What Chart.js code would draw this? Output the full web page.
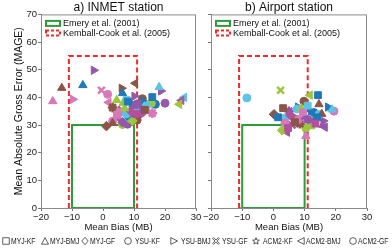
<!DOCTYPE html>
<html>
<head>
<meta charset="utf-8">
<script src="https://cdn.jsdelivr.net/npm/chart.js@4.4.1/dist/chart.umd.min.js"></script>
<style>
  body { margin: 0; background: #fff; width: 392px; height: 251px; overflow: hidden; position: relative; }
  .box { position: absolute; top: 0; height: 236px; }
  #legend { position: absolute; left: 0; top: 234px; width: 392px; height: 16px;
    font: 8.7px "Liberation Sans", Arial, sans-serif; color: #222; white-space: nowrap; }
  #legend span { position: absolute; top: 1px; line-height: 12px; transform: scaleX(0.78); transform-origin: 0 50%; }
  #legend svg { position: absolute; top: 3px; width: 8px; height: 8px; overflow: visible; }
  #legend svg * { fill: none; stroke: #222; stroke-width: 0.9; }
</style>
</head>
<body>
<div class="box" style="left:0; width:205px;"><canvas id="inmet"></canvas></div>
<div class="box" style="left:200px; width:192px;"><canvas id="airport"></canvas></div>
<div id="legend"></div>
<script>
// model configurations (marker shape = configuration)
const schemes = ["MYJ-KF", "MYJ-BMJ", "MYJ-GF", "YSU-KF", "YSU-BMJ", "YSU-GF", "ACM2-KF", "ACM2-BMJ", "ACM2-GF"];
const palette = ["#d978b9", "#8b5548", "#1f78b8", "#9558a8", "#5cc3e3", "#9cc63b", "#b1519c"];

// a) INMET station
const inmetMB   = [-16.2, -13.3, -6.5, -3.0, -9.7, -0.5, 1.5, 6.0, 10.4, 18.1, 18.7, 15.9, 12.7, 20.0, 16.9, 26.2, 25.3, 24.6, 1.8, 3.1, 1.1, 4.4, 6.3, 10.1, 15.9,
                   7.6, 6.5, 9.2, 11.2, 15.6, 8.2, 5.3, 3.1, 6.3, 6.3, 7.9, 3.1, 8.5, 13.5, 7.0, 9.0, 10.5, 12.0, 11.5, 10.0, 4.5, 12.8, 14.0, 9.5, 5.0, 13.0, 8.0, 11.0, 6.0, 7.5];
const inmetMAGE = [38.6, 43.4, 44.4, 49.8, 39.3, 42.6, 41.1, 43.3, 45.1, 43.7, 42.3, 40.1, 39.5, 37.9, 37.5, 40.0, 38.9, 37.5, 38.2, 36.3, 29.6, 39.0, 41.5, 40.4, 34.3,
                   39.0, 38.0, 37.8, 37.6, 37.9, 32.5, 34.6, 31.4, 31.0, 30.2, 30.3, 30.7, 33.0, 35.5, 36.0, 35.0, 34.0, 33.5, 36.5, 36.8, 33.5, 35.0, 37.0, 31.5, 32.5, 38.5, 38.5, 31.8, 35.5, 34.0];
const inmetScheme = [1, 1, 1, 4, 4, 5, 3, 4, 7, 1, 4, 0, 8, 8, 3, 7, 7, 7, 7, 6, 2, 1, 1, 4, 6,
                     0, 1, 4, 0, 3, 3, 3, 3, 2, 8, 8, 1, 3, 0, 1, 2, 0, 4, 8, 1, 0, 6, 3, 2, 7, 4, 0, 3, 5, 3];
const inmetColor  = [0, 1, 2, 3, 0, 0, 0, 1, 1, 4, 3, 2, 1, 3, 2, 4, 6, 5, 0, 1, 1, 5, 2, 3, 0,
                     4, 5, 2, 3, 5, 4, 0, 0, 3, 5, 3, 1, 2, 1, 5, 6, 6, 6, 4, 3, 0, 3, 4, 5, 3, 2, 2, 1, 6, 4];

// b) Airport station
const airportMB   = [-8.5, 2.3, 11.7, 14.3, 9.8, 14.6, 17.5, 18.8, 19.4, 0.2, 1.5, 3.1, 3.7, 7.9, 7.6, 9.5, 10.2, 14.0, 15.9, 3.7, 6.9, 4.7,
                     10.4, 8.5, 16.5, 14.6, 12.5, 2.8, 4.4, 10.4, 12.0, 5.5, 6.0, 11.0, 13.0, 15.5, 9.0, 8.0, 13.5, 5.0, 16.0, 12.0, 11.0, 6.5];
const airportMAGE = [39.8, 42.6, 40.8, 40.8, 38.6, 37.5, 36.5, 35.6, 35.0, 33.9, 32.8, 36.1, 32.5, 36.5, 35.8, 34.6, 33.0, 32.8, 30.0, 30.7, 31.0, 28.9,
                     28.9, 30.5, 29.2, 33.8, 31.0, 28.1, 27.4, 26.0, 35.0, 33.5, 30.0, 32.0, 34.5, 34.0, 36.0, 32.0, 30.5, 35.0, 31.5, 29.5, 37.0, 33.0];
const airportScheme = [3, 5, 7, 0, 8, 1, 4, 1, 3, 2, 0, 0, 3, 4, 3, 0, 1, 0, 1, 3, 0, 0,
                       8, 6, 7, 3, 2, 2, 7, 1, 4, 2, 5, 0, 8, 1, 1, 3, 0, 6, 4, 1, 0, 4];
const airportColor  = [4, 5, 5, 2, 1, 1, 2, 4, 0, 1, 2, 1, 4, 2, 4, 0, 3, 2, 3, 0, 1, 6,
                       5, 1, 3, 4, 6, 5, 6, 0, 2, 6, 6, 3, 2, 1, 5, 0, 6, 3, 3, 5, 4, 1];

// criteria boxes (MB range, MAGE upper limit)
const emeryBox = { mb: 10, mage: 30 };
const kembalBox = { mb: 11, mage: 55 };

const FONT = "'Liberation Sans', Arial, sans-serif";
const shapes = ["rect", "triangle", "rectRot", "circle", "triangle", "crossRot", "star", "triangle", "circle"];
const rotations = [0, 0, 0, 0, 90, 0, 0, -90, 0];

function boxData(b) {
  return [{ x: -b.mb, y: 0 }, { x: -b.mb, y: b.mage }, { x: b.mb, y: b.mage }, { x: b.mb, y: 0 }, { x: -b.mb, y: 0 }];
}

function buildDatasets(mb, mage, sch, col) {
  const sets = [
    { type: "line", label: "Emery et al. (2001)", data: boxData(emeryBox), borderColor: "#2e9a3a",
      borderWidth: 2, pointRadius: 0, fill: false, order: 10 },
    { type: "line", label: "Kemball-Cook et al. (2005)", data: boxData(kembalBox), borderColor: "#ee2a2a",
      borderWidth: 2, borderDash: [5, 3], pointRadius: 0, fill: false, order: 11 },
  ];
  schemes.forEach((name, s) => {
    const idx = sch.map((v, i) => (v === s ? i : -1)).filter((i) => i >= 0);
    if (!idx.length) return;
    const colors = idx.map((i) => palette[col[i]]);
    const stroked = shapes[s] === "crossRot" || shapes[s] === "star";
    sets.push({
      label: name,
      data: idx.map((i) => ({ x: mb[i], y: mage[i] })),
      pointStyle: shapes[s],
      rotation: rotations[s],
      pointRadius: shapes[s] === "circle" ? 4 : 4.8,
      pointBackgroundColor: colors,
      pointBorderColor: colors,
      pointBorderWidth: stroked ? 2.5 : 1,
      order: 0,
    });
  });
  return sets;
}

// frame round the plot area
const frame = {
  id: "frame",
  beforeDatasetsDraw(chart) {
    const { ctx, chartArea: { left, top, width, height } } = chart;
    ctx.save();
    ctx.strokeStyle = "#8a8a8a";
    ctx.lineWidth = 1;
    ctx.strokeRect(left + 0.5, top + 0.5, width - 1, height);
    ctx.restore();
  },
};

// legend of the two criteria boxes, inside the plot, top left
const boxLegend = {
  id: "boxLegend",
  afterDatasetsDraw(chart) {
    const { ctx, chartArea: { left, top } } = chart;
    chart.data.datasets.slice(0, 2).forEach((ds, i) => {
      const y = top + 9 + i * 9.5;
      ctx.save();
      ctx.strokeStyle = ds.borderColor;
      ctx.lineWidth = 2;
      ctx.setLineDash(ds.borderDash ? [3, 2] : []);
      ctx.strokeRect(left + 5, y - 2.5, 14, 5);
      ctx.setLineDash([]);
      ctx.fillStyle = "#111";
      ctx.font = "9px " + FONT;
      ctx.textBaseline = "middle";
      ctx.fillText(ds.label, left + 22, y + 0.5);
      ctx.restore();
    });
  },
};

function makeChart(id, mb, mage, sch, col, title, first) {
  return new Chart(document.getElementById(id), {
    type: "scatter",
    data: { datasets: buildDatasets(mb, mage, sch, col) },
    options: {
      responsive: true,
      maintainAspectRatio: false,
      animation: false,
      layout: { padding: { left: 0, right: first ? 9 : 25, top: 0, bottom: 0 } },
      plugins: {
        title: { display: true, text: title, fullSize: false, color: "#111",
          font: { family: FONT, size: 12, weight: "normal" }, padding: { top: 0, bottom: 0 } },
        legend: { display: false },
        tooltip: { enabled: false },
      },
      scales: {
        x: {
          type: "linear", min: -20, max: 30,
          ticks: { stepSize: 5, padding: 1, color: "#222", font: { family: FONT, size: 9.5 }, maxRotation: 0,
            callback: (v) => String(v).replace("-", "\u2212") },
          grid: { drawOnChartArea: false, tickLength: 3, color: "#777" },
          border: { color: "#8a8a8a" },
          title: { display: true, text: "Mean Bias (MB)", color: "#111", font: { family: FONT, size: 9.5 }, padding: { top: 0, bottom: 3 } },
          afterFit: (s) => { s.height = 28; },
        },
        y: {
          type: "linear", min: 0, max: 70,
          ticks: { stepSize: 5, padding: 1, color: "#222", font: { family: FONT, size: 9.5 },
            callback: (v) => (first ? v : "") },
          grid: { drawOnChartArea: false, tickLength: 3, color: "#777" },
          border: { color: "#8a8a8a" },
          title: { display: first, text: "Mean Absolute Gross Error (MAGE)", color: "#111", font: { family: FONT, size: 10.5 }, padding: { top: 13, bottom: 0 } },
          afterFit: (s) => { s.width = first ? 41 : 11; },
        },
      },
    },
    plugins: [frame, boxLegend],
  });
}

makeChart("inmet", inmetMB, inmetMAGE, inmetScheme, inmetColor, "a) INMET station", true);
makeChart("airport", airportMB, airportMAGE, airportScheme, airportColor, "b) Airport station", false);

// shape legend under both panels (outline icons, as in the figure key)
const icons = [
  '<rect x="1" y="1" width="8" height="8"/>',
  '<polygon points="5,0.8 9.4,9 0.6,9"/>',
  '<polygon points="5,0.3 9,5 5,9.7 1,5"/>',
  '<circle cx="5" cy="5" r="4.2"/>',
  '<polygon points="1,0.8 9.4,5 1,9.2"/>',
  '<polygon points="2,0.8 5,3.8 8,0.8 9.2,2 6.2,5 9.2,8 8,9.2 5,6.2 2,9.2 0.8,8 3.8,5 0.8,2"/>',
  '<polygon points="5,0.8 6.1,3.8 9.3,3.9 6.8,5.9 7.6,8.9 5,7.2 2.4,8.9 3.2,5.9 0.7,3.9 3.9,3.8"/>',
  '<polygon points="9,0.8 0.6,5 9,9.2"/>',
  '<circle cx="5" cy="5" r="4.2"/>',
];
const glyphX = [2, 41, 81, 124, 170, 212, 252, 297, 349];
const textX = [11, 50, 90, 135, 181, 222, 263, 306, 358];
const legend = document.getElementById("legend");
schemes.forEach((name, i) => {
  legend.insertAdjacentHTML("beforeend",
    '<svg viewBox="0 0 10 10" style="left:' + glyphX[i] + 'px">' + icons[i] + "</svg>" +
    '<span style="left:' + textX[i] + 'px">' + name + "</span>");
});
</script>
</body>
</html>
